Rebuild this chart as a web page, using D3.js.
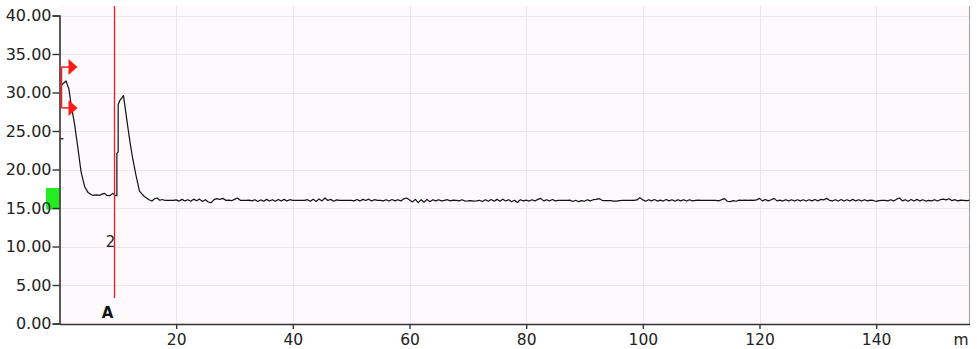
<!DOCTYPE html>
<html>
<head>
<meta charset="utf-8">
<script src="https://cdn.jsdelivr.net/npm/d3@7/dist/d3.min.js"></script>
<style>
  html, body { margin: 0; padding: 0; background: #ffffff; }
  svg { display: block; }
</style>
</head>
<body>
<svg id="chart" width="977" height="349"></svg>
<script>
// ---------- DATA ----------
const yTicks = [0, 5, 10, 15, 20, 25, 30, 35, 40];
const xTicks = [20, 40, 60, 80, 100, 120, 140];
const xUnit = "m";

// Trace, first part (distance in m, level)
const peakDistance = [0.4, 0.7, 1.1, 1.6, 2.0, 2.6, 3.15, 3.7, 4.3, 4.9, 5.4, 5.7, 6.3, 6.9, 7.3, 7.7, 8.1, 8.6, 9.15, 9.55,
  9.84, 9.84, 10.06, 10.06, 10.3, 10.7, 10.97, 11.26, 11.66, 12.12, 12.58, 13.15, 13.71, 14.4, 14.8, 15.26, 15.84, 16.3, 16.7, 17.2, 17.6];
const peakLevel = [31.0, 31.2, 31.5, 30.5, 28.4, 25.8, 22.8, 19.7, 17.8, 17.0, 16.75, 16.65, 16.7, 16.65, 16.8, 16.9, 16.65, 16.6, 16.9, 16.6,
  16.6, 22.1, 22.3, 28.4, 28.9, 29.3, 29.6, 28.0, 25.8, 23.4, 21.3, 19.1, 17.2, 16.6, 16.35, 16.1, 15.9, 16.2, 16.3, 16.0, 16.1];

// Trace, flat part: samples every 0.5 m from 18.0 m
const baselineStart = 18.0;
const baselineStep = 0.5;
const baselineLevel = [
  16.0, 16.0, 15.98, 16.0, 16.05, 15.9, 16.12, 15.92, 16.08, 15.88, 16.15, 15.95, 16.15, 15.85, 16.08, 15.78, 15.7, 16.08, 16.22, 16.1,
  16.25, 16.0, 16.02, 15.95, 16.12, 16.3, 16.0, 16.0, 16.0, 16.02, 15.92, 16.08, 15.85, 16.05, 15.88, 16.12, 15.9, 16.08, 15.88, 16.1,
  15.92, 16.12, 15.92, 16.08, 16.0, 16.0, 16.0, 15.98, 16.0, 16.08, 15.88, 16.15, 15.85, 16.18, 15.92, 16.3, 15.98, 16.12, 15.88, 16.05,
  16.0, 16.0, 16.0, 15.98, 16.0, 15.92, 16.1, 15.92, 16.12, 15.98, 16.15, 15.92, 16.08, 16.0, 16.0, 15.92, 16.08, 15.9, 16.1, 15.92,
  16.08, 15.92, 16.18, 16.3, 16.05, 15.78, 16.12, 15.7, 16.08, 15.75, 16.12, 15.82, 16.08, 15.92, 16.08, 15.92, 16.0, 16.08, 15.92, 16.02,
  16.0, 15.92, 16.08, 15.9, 15.92, 15.95, 15.9, 15.92, 16.0, 15.85, 16.08, 15.88, 16.1, 15.88, 16.12, 15.88, 16.15, 15.92, 16.08, 15.82,
  16.0, 15.72, 16.08, 15.92, 16.02, 15.9, 16.08, 15.92, 16.12, 16.25, 15.92, 16.08, 15.9, 16.1, 15.92, 16.0, 16.0, 16.0, 16.0, 16.02,
  15.85, 16.0, 15.82, 15.95, 15.88, 16.08, 15.92, 16.08, 16.12, 16.22, 16.0, 15.95, 15.95, 15.95, 15.9, 15.9, 15.95, 15.98, 15.98, 16.0,
  15.98, 16.0, 16.05, 16.35, 16.05, 15.88, 16.08, 15.92, 16.1, 15.9, 16.02, 15.9, 16.1, 15.92, 16.08, 15.88, 16.08, 15.92, 16.08, 15.9,
  16.08, 15.92, 16.0, 16.02, 16.0, 16.0, 16.0, 16.0, 15.98, 16.0, 15.92, 16.08, 16.22, 15.88, 15.82, 15.95, 15.88, 16.02, 16.0, 16.02,
  16.0, 16.02, 16.0, 16.05, 16.25, 15.92, 16.1, 15.92, 16.08, 16.25, 15.92, 16.02, 15.9, 16.08, 15.92, 16.08, 15.9, 16.08, 15.92, 16.08,
  15.9, 16.08, 15.92, 16.1, 15.92, 16.12, 16.05, 16.25, 16.0, 15.92, 16.08, 15.9, 16.1, 15.9, 16.08, 15.92, 16.12, 15.92, 16.08, 15.9,
  16.08, 15.92, 16.02, 15.98, 15.85, 15.95, 16.0, 16.0, 15.92, 16.08, 15.92, 16.15, 16.3, 15.92, 16.08, 15.88, 16.1, 15.9, 16.12, 15.92,
  16.08, 15.9, 16.0, 15.92, 16.08, 15.9, 16.08, 16.15, 16.05, 16.2, 15.95, 16.08, 15.92, 16.02, 16.0, 15.95, 16.0
];

// Markers
const cursorDistance = 9.26;      // red cursor line "A"
const cursorBottomLevel = 3.3;    // where the cursor line stops
const cursorLabel = "A";
const eventLabel = "2";
const eventLabelLevel = 10.7;
const bracketLevels = [33.3, 28.0]; // red arrow markers on the left
const greenBand = [14.8, 17.6];     // green level block
const levelTickMark = 24;           // small dash on the y axis

// ---------- LAYOUT ----------
const plot = { left: 59.5, right: 969.5, top: 6, bottom: 324 };

const x = d3.scaleLinear().domain([0, 156]).range([plot.left, plot.right]);
const y = d3.scaleLinear().domain([0, 40]).range([323.5, 15.5]);

const svg = d3.select("#chart");
const font = "'DejaVu Sans', Verdana, sans-serif";

// plot background
svg.append("rect")
  .attr("x", plot.left).attr("y", plot.top)
  .attr("width", plot.right - plot.left).attr("height", plot.bottom - plot.top)
  .attr("fill", "#fdf9fd");

// grid
const grid = svg.append("g").attr("shape-rendering", "crispEdges");
grid.selectAll("line.h").data(yTicks.filter(d => d > 0)).join("line")
  .attr("class", "h")
  .attr("x1", plot.left).attr("x2", plot.right)
  .attr("y1", d => Math.round(y(d)) + 0.5).attr("y2", d => Math.round(y(d)) + 0.5)
  .attr("stroke", "#ece6ec").attr("stroke-width", 1.5);
grid.selectAll("line.v").data(xTicks).join("line")
  .attr("class", "v")
  .attr("x1", d => Math.round(x(d)) + 0.5).attr("x2", d => Math.round(x(d)) + 0.5)
  .attr("y1", plot.top).attr("y2", plot.bottom)
  .attr("stroke", "#ece6ec").attr("stroke-width", 1.5);

// right border
svg.append("line")
  .attr("x1", plot.right).attr("x2", plot.right)
  .attr("y1", plot.top).attr("y2", plot.bottom)
  .attr("stroke", "#a0a0a0").attr("stroke-width", 1);

// green band
svg.append("rect")
  .attr("x", 46).attr("y", y(greenBand[1]))
  .attr("width", plot.left - 46).attr("height", y(greenBand[0]) - y(greenBand[1]))
  .attr("fill", "#22ee22");

// axes
const yAxis = d3.axisLeft(y).tickValues(yTicks).tickFormat(d3.format(".2f")).tickSize(7).tickPadding(1);
const gy = svg.append("g").attr("transform", `translate(${plot.left},0)`).call(yAxis);
gy.select(".domain").attr("stroke", "#333").attr("stroke-width", 1.6);
gy.selectAll(".tick line").attr("stroke", "#333").attr("stroke-width", 1.4);
gy.selectAll(".tick text").attr("font-family", font).attr("font-size", 16).attr("fill", "#222");

const xAxis = d3.axisBottom(x).tickValues(xTicks).tickFormat(d3.format("d")).tickSize(5).tickPadding(5).tickSizeOuter(0);
const gx = svg.append("g").attr("transform", `translate(0,${plot.bottom})`).call(xAxis);
gx.select(".domain").attr("stroke", "#333").attr("stroke-width", 1.6);
gx.selectAll(".tick line").attr("stroke", "#333").attr("stroke-width", 1.4);
gx.selectAll(".tick text").attr("font-family", font).attr("font-size", 15.5).attr("fill", "#222");

svg.append("text")
  .attr("x", 961).attr("y", 345)
  .attr("text-anchor", "middle")
  .attr("font-family", font).attr("font-size", 15.5).attr("fill", "#222")
  .text(xUnit);

// small dash on y axis
svg.append("line")
  .attr("x1", plot.left).attr("x2", plot.left + 4)
  .attr("y1", y(levelTickMark)).attr("y2", y(levelTickMark))
  .attr("stroke", "#333").attr("stroke-width", 1.4);

// clip
svg.append("clipPath").attr("id", "clip").append("rect")
  .attr("x", plot.left).attr("y", plot.top)
  .attr("width", plot.right - plot.left).attr("height", plot.bottom - plot.top);

// trace
const trace = peakDistance.map((d, i) => [d, peakLevel[i]])
  .concat(baselineLevel.map((v, i) => [baselineStart + i * baselineStep, v]));
const line = d3.line().x(d => x(d[0])).y(d => y(d[1]));
svg.append("path")
  .datum(trace)
  .attr("clip-path", "url(#clip)")
  .attr("d", line)
  .attr("fill", "none")
  .attr("stroke", "#111")
  .attr("stroke-width", 1.2)
  .attr("stroke-linejoin", "round");

// event label "2"
svg.append("text")
  .attr("x", x(cursorDistance) - 3).attr("y", y(eventLabelLevel) + 6)
  .attr("text-anchor", "middle")
  .attr("font-family", font).attr("font-size", 15).attr("fill", "#222")
  .text(eventLabel);

// red cursor line
svg.append("line")
  .attr("x1", Math.round(x(cursorDistance)) + 0.5).attr("x2", Math.round(x(cursorDistance)) + 0.5)
  .attr("y1", plot.top).attr("y2", y(cursorBottomLevel))
  .attr("stroke", "#ff1a1a").attr("stroke-width", 1.3);

svg.append("text")
  .attr("x", x(cursorDistance) - 6).attr("y", 318)
  .attr("text-anchor", "middle")
  .attr("font-family", font).attr("font-size", 15).attr("font-weight", "bold").attr("fill", "#111")
  .text(cursorLabel);

// red bracket markers
const bx = plot.left + 2;
const br = svg.append("g");
br.append("line")
  .attr("x1", bx).attr("x2", bx)
  .attr("y1", y(bracketLevels[0])).attr("y2", y(bracketLevels[1]))
  .attr("stroke", "#ff1a1a").attr("stroke-width", 1.5);
br.selectAll("line.h").data(bracketLevels).join("line")
  .attr("class", "h")
  .attr("x1", bx).attr("x2", bx + 8)
  .attr("y1", d => y(d)).attr("y2", d => y(d))
  .attr("stroke", "#ff1a1a").attr("stroke-width", 1.5);
br.selectAll("path").data(bracketLevels).join("path")
  .attr("d", d => `M${bx + 7},${y(d) - 8} L${bx + 16},${y(d)} L${bx + 7},${y(d) + 8} Z`)
  .attr("fill", "#ff1a1a");
</script>
</body>
</html>
